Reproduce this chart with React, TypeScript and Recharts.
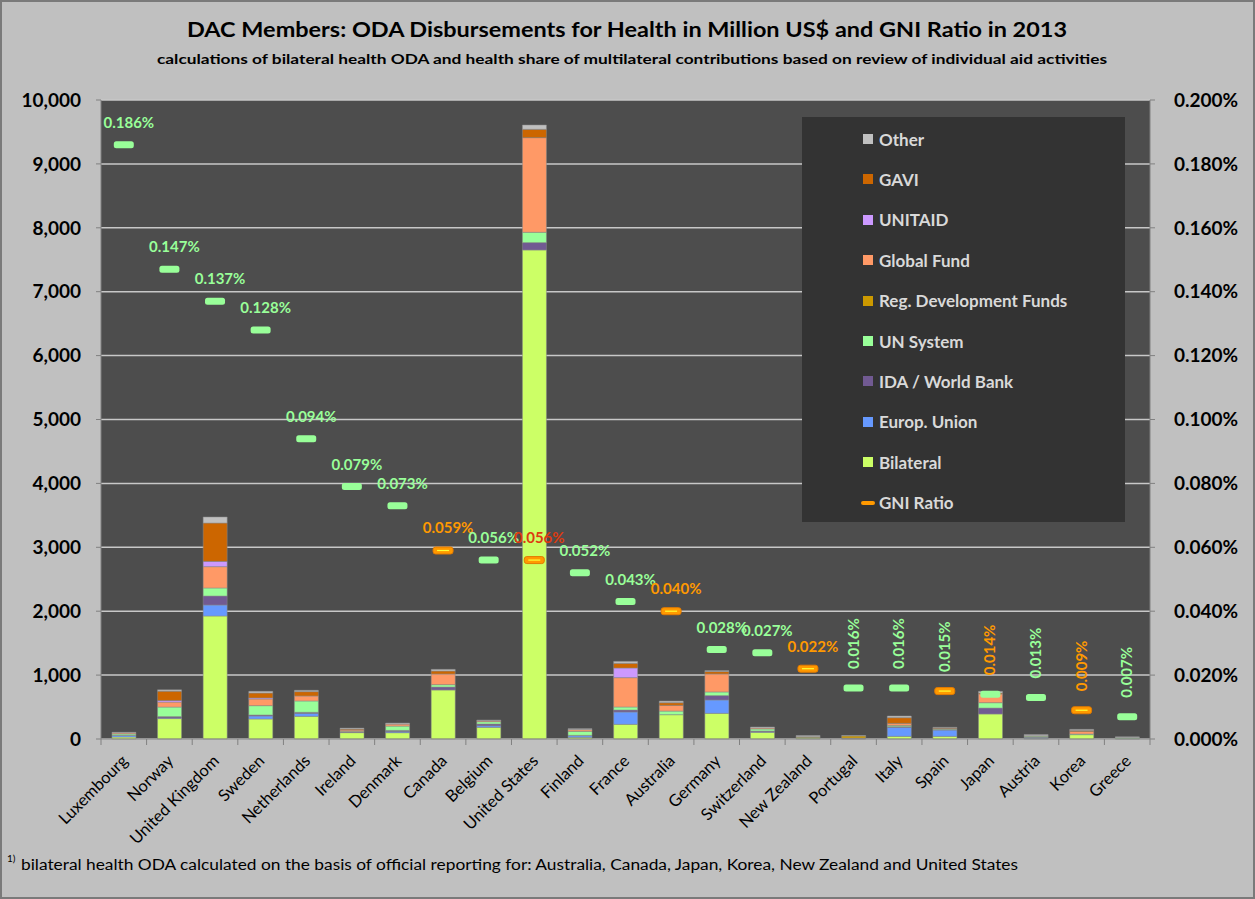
import React from 'react';
import { ComposedChart, Bar, Line, XAxis, YAxis, CartesianGrid, Legend } from 'recharts';

// ODA disbursements for health, million US$, 2013
const countries = [
  'Luxembourg', 'Norway', 'United Kingdom', 'Sweden', 'Netherlands', 'Ireland', 'Denmark', 'Canada',
  'Belgium', 'United States', 'Finland', 'France', 'Australia', 'Germany', 'Switzerland', 'New Zealand',
  'Portugal', 'Italy', 'Spain', 'Japan', 'Austria', 'Korea', 'Greece',
];
const bilateral = [30, 320, 1925, 313, 355, 100, 99, 767, 183, 7653, 26, 230, 380, 402, 105, 15, 5, 42, 42, 391, 10, 68, 5];
const europUnion = [25, 10, 172, 47, 47, 5, 20, 0, 26, 0, 26, 193, 0, 209, 10, 0, 8, 141, 99, 0, 15, 0, 0];
const idaWorldBank = [5, 20, 141, 16, 16, 5, 15, 47, 26, 115, 5, 31, 0, 68, 10, 0, 0, 10, 5, 94, 5, 0, 0];
const unSystem = [20, 150, 125, 146, 177, 10, 68, 36, 36, 162, 63, 47, 57, 57, 32, 10, 0, 20, 10, 83, 15, 10, 15];
const regDevFunds = [0, 0, 0, 0, 0, 0, 0, 0, 0, 0, 0, 0, 0, 0, 0, 10, 35, 0, 0, 0, 0, 0, 0];
const globalFund = [15, 78, 334, 104, 78, 20, 31, 167, 16, 1481, 26, 459, 89, 282, 15, 0, 0, 32, 10, 136, 5, 40, 0];
const unitaid = [0, 25, 83, 16, 0, 0, 0, 0, 0, 0, 0, 151, 0, 0, 0, 0, 0, 0, 0, 0, 0, 0, 0];
const gavi = [0, 145, 600, 78, 68, 15, 0, 47, 0, 130, 0, 73, 42, 37, 0, 0, 0, 89, 10, 15, 0, 15, 0];
const other = [10, 22, 94, 26, 21, 15, 16, 26, 10, 68, 16, 31, 26, 16, 16, 20, 7, 26, 7, 27, 20, 18, 15];
// health ODA as % of GNI
const gniRatio = [0.186, 0.147, 0.137, 0.128, 0.094, 0.079, 0.073, 0.059, 0.056, 0.056, 0.052, 0.043, 0.040,
  0.028, 0.027, 0.022, 0.016, 0.016, 0.015, 0.014, 0.013, 0.009, 0.007];

const leftTicks = [0, 1000, 2000, 3000, 4000, 5000, 6000, 7000, 8000, 9000, 10000];
const rightTicks = [0, 0.02, 0.04, 0.06, 0.08, 0.1, 0.12, 0.14, 0.16, 0.18, 0.2];

const chartData = countries.map((country, i) => ({
  country,
  bilateral: bilateral[i],
  europUnion: europUnion[i],
  idaWorldBank: idaWorldBank[i],
  unSystem: unSystem[i],
  regDevFunds: regDevFunds[i],
  globalFund: globalFund[i],
  unitaid: unitaid[i],
  gavi: gavi[i],
  other: other[i],
  gniRatio: gniRatio[i],
}));

const stackSeries = [
  { key: 'bilateral', name: 'Bilateral', color: '#ccff66' },
  { key: 'europUnion', name: 'Europ. Union', color: '#6699ff' },
  { key: 'idaWorldBank', name: 'IDA / World Bank', color: '#715a92' },
  { key: 'unSystem', name: 'UN System', color: '#99ff99' },
  { key: 'regDevFunds', name: 'Reg. Development Funds', color: '#cc9900' },
  { key: 'globalFund', name: 'Global Fund', color: '#ff9966' },
  { key: 'unitaid', name: 'UNITAID', color: '#cc99ff' },
  { key: 'gavi', name: 'GAVI', color: '#cc6600' },
  { key: 'other', name: 'Other', color: '#c0c0c0' },
];

// marker / label styling of the GNI ratio points
const orangeMarkers = ['Canada', 'United States', 'Australia', 'New Zealand', 'Spain', 'Korea'];
const orangeLabels = ['Canada', 'Australia', 'New Zealand', 'Japan', 'Korea'];
const firstVerticalLabel = 16;

const FONT = 'Lato, "Open Sans", sans-serif';
const PLOT_LEFT = 101;
const PLOT_RIGHT = 1150;
const BAND = (PLOT_RIGHT - PLOT_LEFT) / countries.length;

const CountryTick = (props: any) => {
  const { x, y, payload } = props;
  const i = countries.indexOf(payload.value);
  return (
    <g>
      <line x1={x - BAND / 2} x2={x - BAND / 2} y1={y} y2={y + 6} stroke="#808080" />
      {i === countries.length - 1 && (
        <line x1={x + BAND / 2} x2={x + BAND / 2} y1={y} y2={y + 6} stroke="#808080" />
      )}
      <text
        x={x + 5}
        y={y + 23}
        textAnchor="end"
        transform={`rotate(-45, ${x + 5}, ${y + 23})`}
        fontFamily={FONT}
        fontSize={16.5}
        fill="#000"
      >
        {payload.value}
      </text>
    </g>
  );
};

const renderRatioDot = (props: any) => {
  const { cx, cy, index } = props;
  const name = countries[index];
  const text = `${gniRatio[index].toFixed(3)}%`;
  const labelColor = name === 'United States' ? '#dd3a10' : orangeLabels.includes(name) ? '#ff9900' : '#99ff99';
  const orange = orangeMarkers.includes(name);
  return (
    <g key={`gni-${index}`}>
      {orange ? (
        <g>
          <rect x={cx - 10} y={cy - 3.5} width={20} height={7} rx={2.5} fill="#ff9900" stroke="#e37a00" />
          <line x1={cx - 6} x2={cx + 6} y1={cy} y2={cy} stroke="#ffff33" strokeWidth={1.2} />
        </g>
      ) : (
        <rect x={cx - 10} y={cy - 3.5} width={20} height={7} rx={2.5} fill="#99ff99" />
      )}
      {index >= firstVerticalLabel ? (
        <text
          transform={`translate(${cx + 5}, ${cy - 19}) rotate(-90)`}
          fontFamily={FONT}
          fontWeight={700}
          fontSize={15}
          fill={labelColor}
        >
          {text}
        </text>
      ) : (
        <text x={cx + 5} y={cy - 17} textAnchor="middle" fontFamily={FONT} fontWeight={700} fontSize={15} fill={labelColor}>
          {text}
        </text>
      )}
    </g>
  );
};

const LegendBox = () => (
  <div style={{ width: 323, height: 405, background: '#333333', fontFamily: FONT, position: 'relative' }}>
    {[...stackSeries].reverse().map((s, i) => (
      <div key={s.key} style={{ position: 'absolute', left: 61, top: 22 + i * 40.4 - 10, height: 20, display: 'flex', alignItems: 'center' }}>
        <span style={{ display: 'inline-block', width: 10, height: 10, background: s.color, marginRight: 6 }} />
        <span style={{ color: '#d9d9d9', fontWeight: 700, fontSize: 17 }}>{s.name}</span>
      </div>
    ))}
    <div style={{ position: 'absolute', left: 59, top: 22 + 9 * 40.4 - 10, height: 20, display: 'flex', alignItems: 'center' }}>
      <span style={{ display: 'inline-block', width: 14, height: 4, borderRadius: 2, background: '#ff9900', marginRight: 4 }} />
      <span style={{ color: '#d9d9d9', fontWeight: 700, fontSize: 17 }}>GNI Ratio</span>
    </div>
  </div>
);

export default function App() {
  return (
    <div
      style={{
        position: 'absolute', left: 0, top: 0, width: 1255, height: 899,
        background: '#c0c0c0', boxShadow: 'inset 0 0 0 2px #7a7a7a',
      }}
    >
      <ComposedChart
        width={1255}
        height={899}
        data={chartData}
        margin={{ top: 100, right: 0, bottom: 40, left: 0 }}
        barCategoryGap="24%"
      >
        <CartesianGrid yAxisId="left" vertical={false} fill="#4d4d4d" stroke="#c8c8c8" strokeWidth={1.5} />
        <XAxis
          dataKey="country"
          interval={0}
          height={120}
          tickSize={0}
          tickMargin={0}
          tick={<CountryTick />}
          axisLine={{ stroke: '#808080' }}
        />
        <YAxis
          yAxisId="left"
          width={101}
          domain={[0, 10000]}
          ticks={leftTicks}
          tickSize={5}
          tickMargin={15}
          tickFormatter={(v: number) => v.toLocaleString('en-US')}
          tick={{ fill: '#000', fontFamily: FONT, fontWeight: 700, fontSize: 19 }}
          axisLine={{ stroke: '#808080' }}
          tickLine={{ stroke: '#808080' }}
        />
        <YAxis
          yAxisId="right"
          orientation="right"
          width={105}
          domain={[0, 0.2]}
          ticks={rightTicks}
          tickSize={5}
          tickMargin={19}
          tickFormatter={(v: number) => `${v.toFixed(3)}%`}
          tick={{ fill: '#000', fontFamily: FONT, fontWeight: 700, fontSize: 19, textAnchor: 'start' }}
          axisLine={{ stroke: '#808080' }}
          tickLine={{ stroke: '#808080' }}
        />
        {stackSeries.map((s) => (
          <Bar
            key={s.key}
            yAxisId="left"
            dataKey={s.key}
            name={s.name}
            stackId="oda"
            fill={s.color}
            stroke="#8a8a8a"
            strokeWidth={0.5}
            isAnimationActive={false}
          />
        ))}
        <Line
          yAxisId="right"
          dataKey="gniRatio"
          name="GNI Ratio"
          stroke="none"
          dot={renderRatioDot}
          activeDot={false}
          isAnimationActive={false}
        />
        <Legend
          layout="horizontal"
          verticalAlign="middle"
          align="center"
          wrapperStyle={{ left: 802, top: 117, width: 323, height: 405 }}
          content={() => <LegendBox />}
        />
      </ComposedChart>
      <svg width={1255} height={899} style={{ position: 'absolute', left: 0, top: 0, pointerEvents: 'none' }}>
        <text x={627} y={37} textAnchor="middle" fontFamily={FONT} fontWeight={700} fontSize={20} textLength={880} lengthAdjust="spacingAndGlyphs" fill="#000">
          DAC Members: ODA Disbursements for Health in Million US$ and GNI Ratio in 2013
        </text>
        <text x={632} y={64} textAnchor="middle" fontFamily={FONT} fontWeight={700} fontSize={13.5} textLength={950} lengthAdjust="spacingAndGlyphs" fill="#000">
          calculations of bilateral health ODA and health share of multilateral contributions based on review of individual aid activities
        </text>
        <text x={7} y={862} fontFamily={FONT} fontSize={10} fill="#000">1)</text>
        <text x={21} y={870} fontFamily={FONT} fontSize={15.5} textLength={997} lengthAdjust="spacingAndGlyphs" fill="#000">
          bilateral health ODA calculated on the basis of official reporting for:  Australia, Canada, Japan, Korea, New Zealand and United States
        </text>
      </svg>
    </div>
  );
}
